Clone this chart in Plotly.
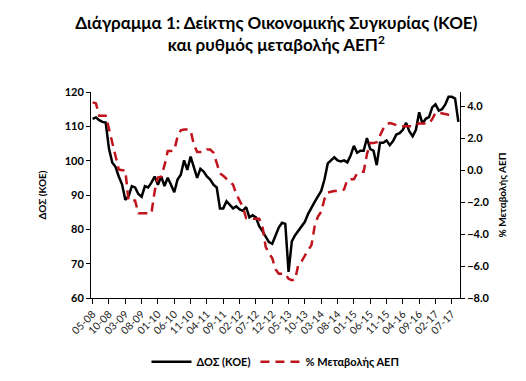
import plotly.graph_objects as go

tick_labels = ["05-08", "10-08", "03-09", "08-09", "01-10", "06-10", "11-10", "04-11",
               "09-11", "02-12", "07-12", "12-12", "05-13", "10-13", "03-14", "08-14",
               "01-15", "06-15", "11-15", "04-16", "09-16", "02-17", "07-17"]

dos_koe = [112.2, 112.6, 111.8, 111.3, 111.1, 103.5, 99.5, 98.2, 95.4, 93.1,
           88.6, 89.6, 92.6, 92.2, 90.3, 89.5, 92.6, 92.2, 93.6, 95.4,
           93.0, 95.4, 92.6, 95.0, 93.0, 90.8, 94.5, 95.9, 100.1, 97.3,
           101.2, 97.8, 95.0, 97.6, 96.8, 95.4, 94.5, 93.0, 92.2, 86.1,
           86.1, 88.2, 87.0, 86.1, 86.7, 85.8, 85.4, 86.5, 83.5, 84.1,
           83.5, 80.9, 79.5, 78.0, 76.3, 75.8, 78.0, 80.5, 81.9, 81.6,
           67.6, 76.5, 78.3, 79.6, 80.8, 82.2, 84.5, 86.5, 88.0, 89.6,
           91.2, 94.5, 99.2, 100.1, 101.0, 100.1, 99.8, 100.1, 99.5, 101.5,
           104.3, 102.3, 102.9, 102.9, 106.6, 103.4, 102.9, 98.7, 105.2, 105.2,
           105.9, 104.5, 105.7, 107.6, 108.0, 109.0, 111.0, 108.5, 107.1, 109.0,
           114.1, 110.8, 112.2, 112.7, 115.5, 116.4, 114.6, 115.0, 116.4, 118.6,
           118.6, 118.1, 111.3]

gdp_change = [4.25, 4.2, 3.42, 3.42, 3.42, 2.6, 1.7, 0.85, 0.05, 0.0,
              0.0, -1.9, -1.9, -1.9, -2.7, -2.7, -2.7, -2.7, -2.7, -1.3,
              -0.45, -0.4, 0.3, 1.2, 1.2, 1.25, 2.1, 2.5, 2.55, 2.55,
              2.5, 1.6, 1.15, 1.15, 1.15, 1.3, 1.3, 1.1, 0.5, -0.2,
              -0.35, -0.55, -0.7, -0.9, -1.5, -1.9, -2.3, -3.0, -3.03, -3.03,
              -3.03, -3.03, -3.5, -4.8, -5.2, -5.5, -6.2, -6.48, -6.48, -6.48,
              -6.8, -6.89, -6.85, -5.9, -5.7, -5.3, -5.0, -4.7, -3.5, -2.9,
              -2.6, -1.8, -1.4, -1.35, -1.3, -1.3, -1.3, -1.2, -0.6, -0.56,
              -0.56, -0.2, -0.1, -0.1, 1.0, 1.7, 1.7, 1.75, 2.2, 2.6,
              2.9, 2.95, 2.9, 2.8, 2.75, 2.75, 2.75, 2.75, 2.75, 2.85,
              2.92, 2.92, 2.92, 2.92, 3.2, 3.6, 3.6, 3.55, 3.5, 3.48,
              3.48, None, None]

months = list(range(len(dos_koe)))
tick_vals = [i * 5 for i in range(len(tick_labels))]

FONT = "Lato"

fig = go.Figure()
fig.add_trace(go.Scatter(
    x=months, y=dos_koe, name="ΔΟΣ (ΚΟΕ)", mode="lines",
    line=dict(color="black", width=2.5), yaxis="y"))
fig.add_trace(go.Scatter(
    x=months, y=gdp_change, name="% Μεταβολής ΑΕΠ", mode="lines",
    line=dict(color="#C0141C", width=2.5, dash="9px,6px"), yaxis="y2"))

fig.update_layout(
    width=526, height=381,
    margin=dict(l=83, r=74, t=84, b=83),
    paper_bgcolor="white", plot_bgcolor="white",
    font=dict(family=FONT, color="black"),
    title=dict(
        text="Διάγραμμα 1: Δείκτης Οικονομικής Συγκυρίας (ΚΟΕ)<br>και ρυθμός μεταβολής ΑΕΠ<sup>2</sup>",
        x=0.51, xanchor="center", y=0.945, yanchor="top",
        font=dict(family=FONT, size=17, weight="bold", color="black")),
    xaxis=dict(
        range=[-0.5, 112.5], tickmode="array", tickvals=tick_vals, ticktext=tick_labels,
        tickangle=-45, showgrid=False, zeroline=False, showline=True,
        linecolor="black", linewidth=1, ticks="outside", ticklen=5, tickcolor="black",
        tickfont=dict(family=FONT, size=10.5, color="#222")),
    yaxis=dict(
        range=[60, 120], dtick=10, showgrid=False, zeroline=False, showline=True,
        linecolor="black", linewidth=1, ticks="outside", ticklen=4, tickcolor="black",
        tickfont=dict(family=FONT, size=11, weight="bold"),
        title=dict(text="ΔΟΣ (ΚΟΕ)", font=dict(family=FONT, size=10, weight="bold"), standoff=16)),
    yaxis2=dict(
        overlaying="y", side="right", range=[-8, 4.9], tickvals=[-8, -6, -4, -2, 0, 2, 4],
        tickformat=".1f", showgrid=False, zeroline=False, showline=True,
        linecolor="black", linewidth=1, ticks="outside", ticklen=4, tickcolor="black",
        tickfont=dict(family=FONT, size=11, weight="bold"),
        title=dict(text="% Μεταβολής ΑΕΠ", font=dict(family=FONT, size=10, weight="bold"), standoff=10)),
    showlegend=True,
    legend=dict(orientation="h", x=0.5, xanchor="center", y=-0.31, yanchor="middle",
                font=dict(family=FONT, size=11, weight="bold"), itemwidth=40,
                tracegroupgap=0, bgcolor="rgba(0,0,0,0)"),
)

fig.write_html("out.html")
